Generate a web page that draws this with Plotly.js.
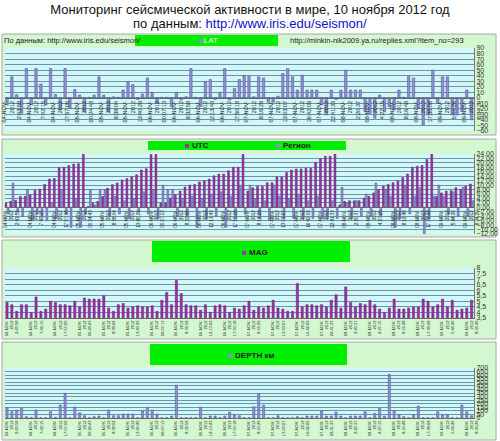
<!DOCTYPE html>
<html><head><meta charset="utf-8">
<script src="https://cdn.plot.ly/plotly-3.0.1.min.js"></script>
<style>html,body{margin:0;padding:0;background:#fff}#chart{width:500px;height:441px}</style>
</head><body><div id="chart"></div>
<script>
const lat = [-13, 38, 6, -28, 53, -13, 53, 25, -13, 53,
  6, -22, 53, -19, 15, 5, -25, 1, 5, 38,
  5, -25, 2, 1, 14, 29, 24, -3, 7, 36,
  10, -10, 1, 1, -16, 10, -4, 2, 53, 1,
  -16, 29, 33, -3, 10, 53, -4, 17, 33, 40,
  39, 2, 38, 36, -8, -8, 3, 44, 53, 38,
  14, 41, 14, 14, 14, -13, -31, 14, -3, 14,
  50, 14, 14, 14, -25, -28, -37, 5, -25, -16,
  -22, 14, 1, 39, 36, -19, -49, -31, 50, -10,
  38, 38, -31, -31, -25, 14, -40];
const utc = [2.0, 2.7, 3.2, 4.9, 5.0, 5.6, 7.7, 8.1, 10.3, 12.7, 13.0, 17.9, 18.0, 18.8, 19.5, 19.6, 23.9,
  0.4, 1.8, 2.6, 4.9, 8.6, 10.2, 11.0, 12.3, 13.0, 13.7, 14.7, 16.8, 17.4, 23.8, 23.9,
  1.9, 1.9, 4.2, 5.7, 7.3, 9.1, 10.0, 10.3, 11.4, 11.9, 12.7, 14.2, 15.0, 15.0, 16.5, 18.0, 18.0, 23.9,
  7.3,
  8.8, 9.5, 9.5, 11.1, 11.1, 13.7, 13.7, 15.7, 16.8, 17.3, 17.3, 17.6, 17.6, 20.3, 21.9, 23.0, 23.0, 24.0,
  1.1, 2.7, 3.0, 3.0, 3.0, 4.2, 5.0, 6.5, 8.0, 9.5, 10.3, 11.1, 11.9, 13.4, 15.0, 18.0, 18.5, 18.8, 21.5, 24.0,
  5.0, 6.5, 7.3, 7.5, 8.8, 8.0, 9.5, 10.5];
const region = [-3, 11, -2, -4, 8, -6, -3, -4, -6, 2,
  -5, 8, -3, -9, 4, -9, -3, 8, 1, 8,
  8, -4, 5, -3, 3, -5, 4, -2, 7, -3,
  8, -5, 10, 8, 8, -4, 4, -4, 5, -9,
  4, -5, 6, -4, 7, -9, 5, -5, 10, -3,
  10, 4, -5, 3, -6, 10, 5, -5, 4, -5,
  6, -5, 3, -5, 5, -5, -5, 3, -5, 9,
  2, -5, 3, -4, 6, -4, 11, -4, 8, 5,
  -9, -5, 10, -3, 5, 9, -12, -5, 5, 10,
  5, -3, 7, -4, 9, -4, 3];
const mag = [4.9, 4.7, 4.1, 4.7, 4.7, 4.0, 5.4, 4.1, 4.3, 5.0,
  4.9, 4.7, 4.7, 4.6, 5.0, 4.5, 5.3, 5.2, 5.2, 5.2,
  5.5, 4.4, 4.1, 4.7, 4.8, 4.4, 4.5, 4.6, 4.5, 4.5,
  4.6, 4.1, 5.1, 5.8, 4.7, 6.9, 5.7, 4.7, 4.6, 4.6,
  4.2, 4.7, 4.0, 4.6, 4.7, 4.6, 4.0, 4.4, 4.3, 4.6,
  5.0, 4.2, 4.5, 4.4, 4.6, 5.1, 4.4, 4.3, 4.1, 4.1,
  6.6, 4.5, 4.7, 4.7, 4.6, 4.7, 4.5, 5.1, 5.6, 4.4,
  6.3, 4.9, 4.5, 4.8, 4.7, 5.1, 4.7, 4.3, 4.0, 4.4,
  5.2, 4.3, 4.3, 4.4, 4.5, 4.5, 5.2, 5.0, 4.5, 4.7,
  5.2, 4.5, 5.1, 4.2, 4.3, 4.4, 5.1];
const depth = [145, 89, 112, 135, 19, 9, 112, 5, 5, 89,
  9, 182, 346, 5, 154, 75, 33, 5, 19, 28,
  5, 112, 33, 33, 56, 56, 56, 5, 98, 145,
  112, 56, 5, 5, 28, 462, 5, 5, 5, 5,
  154, 5, 28, 28, 5, 28, 84, 42, 33, 5,
  5, 159, 336, 182, 5, 5, 33, 5, 5, 5,
  19, 5, 28, 28, 28, 98, 28, 28, 84, 28,
  5, 28, 28, 28, 89, 5, 65, 135, 28, 612,
  103, 42, 19, 5, 42, 168, 5, 5, 5, 89,
  42, 42, 5, 2, 182, 89, 33];
const tickIdx = [1, 6, 11, 16, 21, 26, 31, 36, 41, 46, 51, 56, 61, 66, 71, 76, 81, 86, 91, 96];
const tickText = [
  '04-NOV-2012 2:43:58', '04-NOV-2012 7:42:15', '04-NOV-2012 17:57:06', '05-NOV-2012 00:24:43',
  '05-NOV-2012 8:38:04', '05-NOV-2012 13:40:29', '06-NOV-2012 00:07:13', '06-NOV-2012 8:32:58',
  '06-NOV-2012 12:13:43', '06-NOV-2012 17:50:18', '07-NOV-2012 8:16:29', '07-NOV-2012 13:03:07',
  '07-NOV-2012 16:42:09', '07-NOV-2012 22:41:33', '08-NOV-2012 2:20:37', '08-NOV-2012 4:27:15',
  '08-NOV-2012 8:16:48', '08-NOV-2012 17:38:08', '09-NOV-2012 5:44:26', '09-NOV-2012 8:34:29'];

const idx = lat.map((_, i) => i);
const tickLbl = tickText.map(t => { const p = t.split(' '); const d = p[0].split('-'); return d[0] + '-' + d[1] + '-<br>' + d[2] + '<br>' + p[1]; });

const W = 500, H = 441;
const px = v => v / W, py = v => 1 - v / H;
const FONT = 'Liberation Sans, Arial, sans-serif';
const BLUE = '#8e8ed4', BLUE_L = '#50508f', PURP = '#a12fa8', PURP_L = '#641868';
const GRID = '#5d99b3';
const xdom = [px(4.6), px(474)];

const traces = [
  {type: 'bar', name: 'LAT', x: idx, y: lat, xaxis: 'x', yaxis: 'y', width: 0.5,
   marker: {color: BLUE, line: {color: BLUE_L, width: 0.5}}},
  {type: 'bar', name: 'UTC', x: idx, y: utc, xaxis: 'x2', yaxis: 'y2', width: 0.38, offset: -0.42,
   marker: {color: PURP, line: {color: PURP_L, width: 0.5}}},
  {type: 'bar', name: 'Регион', x: idx, y: region, xaxis: 'x2', yaxis: 'y2', width: 0.38, offset: 0.04,
   marker: {color: BLUE, line: {color: BLUE_L, width: 0.5}}},
  {type: 'bar', name: 'MAG', x: idx, y: mag, xaxis: 'x3', yaxis: 'y3', width: 0.45,
   marker: {color: PURP, line: {color: PURP_L, width: 0.5}}},
  {type: 'bar', name: 'DEPTH км', x: idx, y: depth, xaxis: 'x4', yaxis: 'y4', width: 0.45,
   marker: {color: BLUE, line: {color: BLUE_L, width: 0.5}}}
];

function xax(extra) {
  return Object.assign({domain: xdom, range: [-0.5, idx.length - 0.5], tickmode: 'array', tickvals: tickIdx,
    ticktext: tickLbl, tickangle: -90, showgrid: false, zeroline: false, ticks: '',
    showline: true, linecolor: '#666', linewidth: 1, fixedrange: true,
    tickfont: {family: FONT, size: 4, color: '#222'}}, extra);
}
function yax(extra) {
  return Object.assign({side: 'right', showgrid: true, gridcolor: GRID, gridwidth: 1, zeroline: false,
    showline: true, linecolor: '#777', linewidth: 1, ticks: '', fixedrange: true,
    tickfont: {family: FONT, size: 7, color: '#333'}}, extra);
}

const zLat = py(48 + 83 * 90 / 150);
const zUtc = py(154 + 80 * 24 / 36);

function box(x0, y0, x1, y1, fill, line) {
  return {type: 'rect', xref: 'paper', yref: 'paper', x0: px(x0), x1: px(x1), y0: py(y1), y1: py(y0),
    fillcolor: fill, line: line ? {color: line, width: 1} : {width: 0}, layer: 'below'};
}
const PANEL = '#d3f7cf', PLOT = '#d5f6f4', HEAD = '#00ee00', BORDER = '#a8a8a8';
const shapes = [
  box(2, 34, 496, 135, PANEL, BORDER), box(4.6, 48, 474, 131, PLOT), box(135, 35, 278, 46, HEAD),
  box(2, 139, 496, 237, PANEL, BORDER), box(4.6, 154, 474, 234, PLOT), box(148, 141, 346, 150, HEAD),
  box(2, 240, 496, 339, PANEL, BORDER), box(4.6, 268, 474, 318, PLOT), box(152, 241, 350, 262, HEAD),
  box(2, 342, 496, 440, PANEL, BORDER), box(4.6, 368, 474, 418, PLOT), box(150, 344, 347, 365, HEAD)
];

function ann(text, x, y, size, color, anchor, bold) {
  return {xref: 'paper', yref: 'paper', x: px(x), y: py(y), xanchor: anchor || 'left', yanchor: 'middle',
    text: text, showarrow: false, font: {family: FONT, size: size, color: color || '#222', weight: bold ? 'bold' : 'normal'}};
}
const sq = c => '<span style="color:' + c + '">■</span>';
const annotations = [
  ann('по данным: <span style="color:#1010c8">http://www.iris.edu/seismon/</span>', 250, 23, 13, '#111', 'center'),
  ann('По данным: http://www.iris.edu/seismon/', 2, 41, 7.5, '#222'),
  ann('http://minkin-nik2009.ya.ru/replies.xml?item_no=293', 288, 41, 7.5, '#222'),
  ann(sq(BLUE) + 'LAT', 197, 40.5, 8, '#f2f2f2'),
  ann(sq(PURP) + ' UTC', 183, 145.5, 8, '#222', 'left', true),
  ann(sq(BLUE) + ' Регион', 274, 145.5, 8, '#222', 'left', true),
  ann(sq(PURP) + ' MAG', 240, 252, 8, '#222', 'left', true),
  ann(sq(BLUE) + ' DEPTH км', 226, 355, 8, '#222', 'left', true)
];

const layout = {
  width: W, height: H, margin: {l: 0, r: 0, t: 0, b: 0}, paper_bgcolor: '#fff', plot_bgcolor: 'rgba(0,0,0,0)',
  showlegend: false, barmode: 'group', separators: ', ',
  title: {text: 'Мониторинг сейсмической активности в мире, 10 ноября 2012 год', x: 0.5, xanchor: 'center',
    y: py(9), yanchor: 'middle', font: {family: FONT, size: 13, color: '#111'}},
  xaxis: xax({anchor: 'free', position: zLat, tickfont: {family: FONT, size: 5.5, color: '#222'}}),
  yaxis: yax({domain: [py(131), py(48)], range: [-60, 90], dtick: 10, tick0: 0, anchor: 'x'}),
  xaxis2: xax({anchor: 'free', position: zUtc, tickfont: {family: FONT, size: 4.5, color: '#222'}}),
  yaxis2: yax({domain: [py(234), py(154)], range: [-12, 24], dtick: 2, tick0: 0, tickformat: '.2f', anchor: 'x2'}),
  xaxis3: xax({anchor: 'y3'}),
  yaxis3: yax({domain: [py(318), py(268)], range: [3.5, 8], dtick: 0.5, tick0: 0, anchor: 'x3'}),
  xaxis4: xax({anchor: 'y4'}),
  yaxis4: yax({domain: [py(418), py(368)], range: [0, 700], dtick: 50, tick0: 0, anchor: 'x4'}),
  shapes: shapes, annotations: annotations
};
Plotly.newPlot('chart', traces, layout, {staticPlot: true, displayModeBar: false});
</script>
</body></html>
